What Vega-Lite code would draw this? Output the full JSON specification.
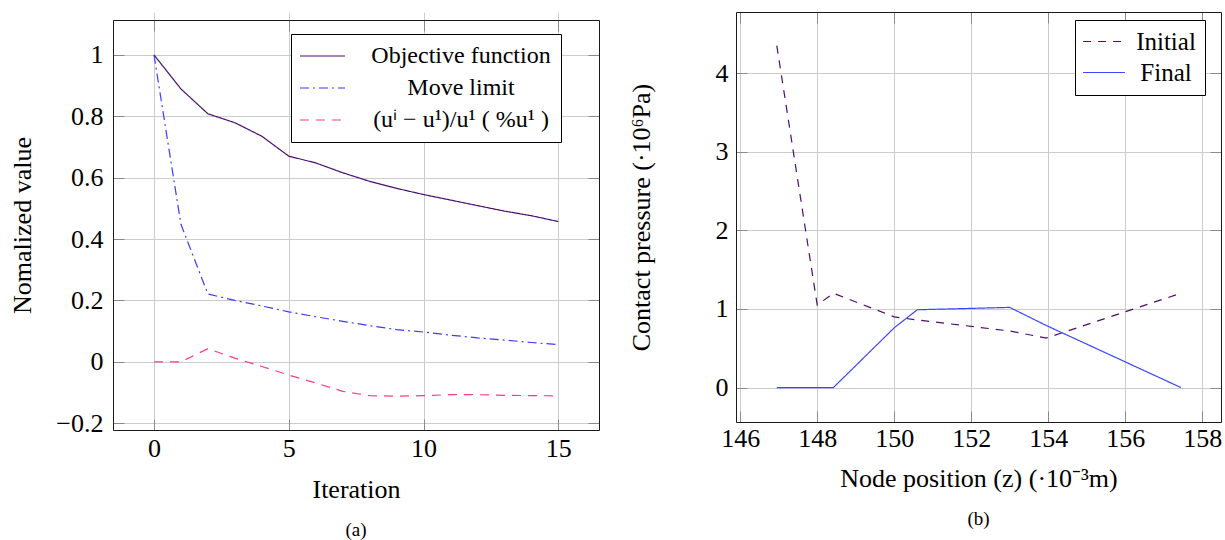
{
  "$schema": "https://vega.github.io/schema/vega-lite/v6.json",
  "background": "white",
  "padding": {"left": 9, "top": 11, "right": 1, "bottom": 1},
  "spacing": 28,
  "resolve": {"scale": {"color": "independent", "strokeDash": "independent"}},
  "config": {
    "font": "Liberation Serif",
    "view": {"stroke": null},
    "axis": {
      "gridColor": "#cccccc", "gridWidth": 1, "gridOpacity": 1,
      "domain": true, "domainColor": "#1a1a1a", "domainWidth": 1,
      "tickColor": "#8a8a8a", "tickWidth": 1, "tickSize": -11,
      "labelFont": "Liberation Serif", "labelFontSize": 26, "labelColor": "#000",
      "titleFont": "Liberation Serif", "titleFontSize": 26, "titleFontWeight": "normal", "titleColor": "#000",
      "labelFlush": false, "labelOverlap": false
    },
    "legend": {
      "strokeColor": "#000", "fillColor": "#fff", "cornerRadius": 0,
      "labelFont": "Liberation Serif", "labelColor": "#000", "symbolStrokeWidth": 1.2, "labelLimit": 400
    },
    "title": {"font": "Liberation Serif", "fontSize": 19, "fontWeight": "normal", "color": "#000", "orient": "bottom", "anchor": "middle"}
  },
  "hconcat": [
    {
      "width": 486, "height": 418,
      "title": {"text": "(a)", "offset": 19},
      "data": {"values": [
        {"iter": 0, "series": "Objective function", "value": 1.0},
        {"iter": 1, "series": "Objective function", "value": 0.889},
        {"iter": 2, "series": "Objective function", "value": 0.808},
        {"iter": 3, "series": "Objective function", "value": 0.779},
        {"iter": 4, "series": "Objective function", "value": 0.735},
        {"iter": 5, "series": "Objective function", "value": 0.670},
        {"iter": 6, "series": "Objective function", "value": 0.648},
        {"iter": 7, "series": "Objective function", "value": 0.616},
        {"iter": 8, "series": "Objective function", "value": 0.588},
        {"iter": 9, "series": "Objective function", "value": 0.565},
        {"iter": 10, "series": "Objective function", "value": 0.545},
        {"iter": 11, "series": "Objective function", "value": 0.527},
        {"iter": 12, "series": "Objective function", "value": 0.509},
        {"iter": 13, "series": "Objective function", "value": 0.491},
        {"iter": 14, "series": "Objective function", "value": 0.476},
        {"iter": 15, "series": "Objective function", "value": 0.457},
        {"iter": 0, "series": "Move limit", "value": 1.0},
        {"iter": 1, "series": "Move limit", "value": 0.448},
        {"iter": 2, "series": "Move limit", "value": 0.221},
        {"iter": 3, "series": "Move limit", "value": 0.200},
        {"iter": 4, "series": "Move limit", "value": 0.182},
        {"iter": 5, "series": "Move limit", "value": 0.163},
        {"iter": 6, "series": "Move limit", "value": 0.147},
        {"iter": 7, "series": "Move limit", "value": 0.132},
        {"iter": 8, "series": "Move limit", "value": 0.118},
        {"iter": 9, "series": "Move limit", "value": 0.105},
        {"iter": 10, "series": "Move limit", "value": 0.097},
        {"iter": 11, "series": "Move limit", "value": 0.087},
        {"iter": 12, "series": "Move limit", "value": 0.078},
        {"iter": 13, "series": "Move limit", "value": 0.071},
        {"iter": 14, "series": "Move limit", "value": 0.063},
        {"iter": 15, "series": "Move limit", "value": 0.056},
        {"iter": 0, "series": "(uⁱ − u¹)/u¹ ( %u¹ )", "value": 0.0},
        {"iter": 1, "series": "(uⁱ − u¹)/u¹ ( %u¹ )", "value": 0.0},
        {"iter": 2, "series": "(uⁱ − u¹)/u¹ ( %u¹ )", "value": 0.043},
        {"iter": 3, "series": "(uⁱ − u¹)/u¹ ( %u¹ )", "value": 0.012},
        {"iter": 4, "series": "(uⁱ − u¹)/u¹ ( %u¹ )", "value": -0.015},
        {"iter": 5, "series": "(uⁱ − u¹)/u¹ ( %u¹ )", "value": -0.043},
        {"iter": 6, "series": "(uⁱ − u¹)/u¹ ( %u¹ )", "value": -0.069},
        {"iter": 7, "series": "(uⁱ − u¹)/u¹ ( %u¹ )", "value": -0.096},
        {"iter": 8, "series": "(uⁱ − u¹)/u¹ ( %u¹ )", "value": -0.110},
        {"iter": 9, "series": "(uⁱ − u¹)/u¹ ( %u¹ )", "value": -0.112},
        {"iter": 10, "series": "(uⁱ − u¹)/u¹ ( %u¹ )", "value": -0.110},
        {"iter": 11, "series": "(uⁱ − u¹)/u¹ ( %u¹ )", "value": -0.107},
        {"iter": 12, "series": "(uⁱ − u¹)/u¹ ( %u¹ )", "value": -0.107},
        {"iter": 13, "series": "(uⁱ − u¹)/u¹ ( %u¹ )", "value": -0.109},
        {"iter": 14, "series": "(uⁱ − u¹)/u¹ ( %u¹ )", "value": -0.110},
        {"iter": 15, "series": "(uⁱ − u¹)/u¹ ( %u¹ )", "value": -0.111}
      ]},
      "resolve": {"axis": {"x": "independent", "y": "independent"}},
      "layer": [
        {
          "mark": {"type": "line", "strokeWidth": 1.2, "clip": true},
          "encoding": {
            "x": {"field": "iter", "type": "quantitative",
              "scale": {"domain": [-1.52, 16.51], "nice": false, "zero": false},
              "axis": {"values": [0, 5, 10, 15], "title": "Iteration", "labelPadding": 16, "titlePadding": 15}},
            "y": {"field": "value", "type": "quantitative",
              "scale": {"domain": [-0.222, 1.1135], "range": [418, 8], "nice": false, "zero": false},
              "axis": {"values": [-0.2, 0, 0.2, 0.4, 0.6, 0.8, 1], "format": "~g", "title": "Nomalized value", "labelPadding": 21, "titlePadding": 20}},
            "color": {"field": "series", "type": "nominal",
              "scale": {"domain": ["Objective function", "Move limit", "(uⁱ − u¹)/u¹ ( %u¹ )"], "range": ["#4b0e6e", "#3b3bff", "#ff3b80"]},
              "legend": {"title": null, "orient": "none", "legendX": 178, "legendY": 22, "padding": 10, "labelFontSize": 24, "labelAlign": "center", "labelOffset": 126.5, "symbolType": "M-4.1,0H4.1", "symbolSize": 121, "symbolOffset": 9.5, "rowPadding": 8}},
            "strokeDash": {"field": "series", "type": "nominal",
              "scale": {"domain": ["Objective function", "Move limit", "(uⁱ − u¹)/u¹ ( %u¹ )"], "range": [[1, 0], [9, 4, 2, 4], [9, 7]]},
              "legend": {"title": null, "orient": "none", "legendX": 178, "legendY": 22, "padding": 10, "labelFontSize": 24, "labelAlign": "center", "labelOffset": 126.5, "symbolType": "M-4.1,0H4.1", "symbolSize": 121, "symbolOffset": 9.5, "rowPadding": 8}}
          }
        },
        {
          "mark": {"type": "line", "opacity": 0},
          "encoding": {
            "x": {"field": "iter", "type": "quantitative",
              "scale": {"domain": [-1.52, 16.51], "nice": false, "zero": false},
              "axis": {"orient": "top", "offset": -8, "values": [0, 5, 10, 15], "labels": false, "grid": false, "title": null}},
            "y": {"field": "value", "type": "quantitative",
              "scale": {"domain": [-0.222, 1.1135], "range": [418, 8], "nice": false, "zero": false},
              "axis": {"orient": "right", "values": [-0.2, 0, 0.2, 0.4, 0.6, 0.8, 1], "labels": false, "grid": false, "title": null}}
          }
        }
      ]
    },
    {
      "width": 485, "height": 410,
      "title": {"text": "(b)", "offset": 19},
      "data": {"values": [
        {"z": 146.95, "series": "Initial", "p": 4.35},
        {"z": 148.0, "series": "Initial", "p": 1.05},
        {"z": 148.42, "series": "Initial", "p": 1.2},
        {"z": 150.0, "series": "Initial", "p": 0.9},
        {"z": 150.6, "series": "Initial", "p": 0.86},
        {"z": 153.0, "series": "Initial", "p": 0.72},
        {"z": 153.95, "series": "Initial", "p": 0.63},
        {"z": 157.45, "series": "Initial", "p": 1.2},
        {"z": 146.95, "series": "Final", "p": 0.0},
        {"z": 148.0, "series": "Final", "p": 0.0},
        {"z": 148.42, "series": "Final", "p": 0.0},
        {"z": 150.0, "series": "Final", "p": 0.76},
        {"z": 150.6, "series": "Final", "p": 0.99},
        {"z": 153.0, "series": "Final", "p": 1.02},
        {"z": 153.95, "series": "Final", "p": 0.79},
        {"z": 157.45, "series": "Final", "p": 0.0}
      ]},
      "resolve": {"axis": {"x": "independent", "y": "independent"}},
      "layer": [
        {
          "mark": {"type": "line", "strokeWidth": 1.2, "clip": true},
          "encoding": {
            "x": {"field": "z", "type": "quantitative",
              "scale": {"domain": [145.89, 158.49], "nice": false, "zero": false},
              "axis": {"values": [146, 148, 150, 152, 154, 156, 158], "title": "Node position (z) (·10⁻³m)", "labelPadding": 14, "titlePadding": 14}},
            "y": {"field": "p", "type": "quantitative",
              "scale": {"domain": [-0.438, 4.778], "nice": false, "zero": false},
              "axis": {"values": [0, 1, 2, 3, 4], "title": "Contact pressure (·10⁶Pa)", "labelPadding": 19, "titlePadding": 61}},
            "color": {"field": "series", "type": "nominal",
              "scale": {"domain": ["Initial", "Final"], "range": ["#4b0e6e", "#3a46ff"]},
              "legend": {"title": null, "orient": "none", "legendX": 339, "legendY": 8, "padding": 9, "labelFontSize": 25, "labelAlign": "center", "labelOffset": 49.5, "symbolType": "M-3.8,0H3.8", "symbolSize": 121, "symbolOffset": 7.5, "rowPadding": 5}},
            "strokeDash": {"field": "series", "type": "nominal",
              "scale": {"domain": ["Initial", "Final"], "range": [[8, 7], [1, 0]]},
              "legend": {"title": null, "orient": "none", "legendX": 339, "legendY": 8, "padding": 9, "labelFontSize": 25, "labelAlign": "center", "labelOffset": 49.5, "symbolType": "M-3.8,0H3.8", "symbolSize": 121, "symbolOffset": 7.5, "rowPadding": 5}}
          }
        },
        {
          "mark": {"type": "line", "opacity": 0},
          "encoding": {
            "x": {"field": "z", "type": "quantitative",
              "scale": {"domain": [145.89, 158.49], "nice": false, "zero": false},
              "axis": {"orient": "top", "values": [146, 148, 150, 152, 154, 156, 158], "labels": false, "grid": false, "title": null}},
            "y": {"field": "p", "type": "quantitative",
              "scale": {"domain": [-0.438, 4.778], "nice": false, "zero": false},
              "axis": {"orient": "right", "values": [0, 1, 2, 3, 4], "labels": false, "grid": false, "title": null}}
          }
        }
      ]
    }
  ]
}
